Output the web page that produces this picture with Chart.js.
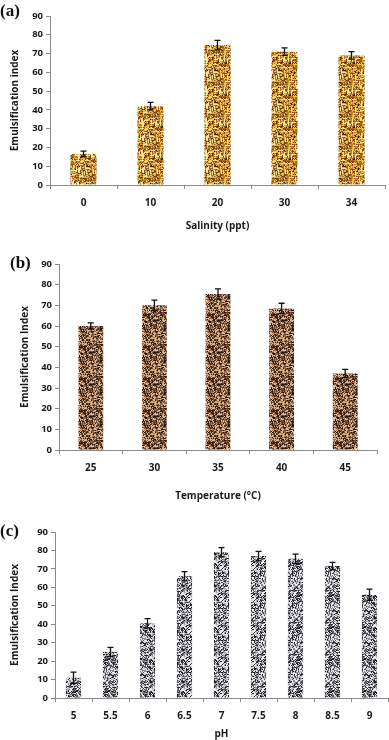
<!DOCTYPE html>
<html>
<head>
<meta charset="utf-8">
<script src="https://cdn.jsdelivr.net/npm/chart.js@4.4.1/dist/chart.umd.min.js"></script>
<style>
  body { margin: 0; background: #fff; width: 389px; height: 740px; position: relative; overflow: hidden; }
  .box { position: absolute; left: 0; width: 389px; }
  .tag { position: absolute; font: bold 17px "Liberation Serif", serif; line-height: 17px; color: #111; }
</style>
</head>
<body>
<div class="box" style="top:0;height:232px"><canvas id="chartA"></canvas></div>
<div class="box" style="top:250px;height:252px"><canvas id="chartB"></canvas></div>
<div class="box" style="top:515px;height:225px"><canvas id="chartC"></canvas></div>
<div class="tag" style="left:0;top:2px">(a)</div>
<div class="tag" style="left:10px;top:254px">(b)</div>
<div class="tag" style="left:0;top:522px">(c)</div>
<script>
// (a) salinity
const salinity = ['0', '10', '20', '30', '34'];
const salinityEI = [16.5, 42, 74.5, 71, 69];
const salinityErr = [1.5, 2, 2.5, 2, 2];

// (b) temperature
const temperature = ['25', '30', '35', '40', '45'];
const temperatureEI = [60, 70, 75.5, 68.5, 37];
const temperatureErr = [1.5, 2.5, 2.5, 2.5, 2];

// (c) pH
const phLevels = ['5', '5.5', '6', '6.5', '7', '7.5', '8', '8.5', '9'];
const phEI = [11, 25, 40.5, 66, 79, 77, 75.5, 71.5, 56];
const phErr = [3, 2.5, 2.5, 2.5, 2.5, 2.5, 2.5, 2, 3];

const yTicks = [0, 10, 20, 30, 40, 50, 60, 70, 80, 90];

const FONT = '"Open Sans", "DejaVu Sans", sans-serif';
const AXIS = '#8a8a8a';

// seeded noise for the bar textures
function makeRand(seed) {
  let s = seed;
  return () => { s = (s * 1103515245 + 12345) % 2147483648; return s / 2147483648; };
}

function texture(base, specks, seed, size, weave) {
  const c = document.createElement('canvas');
  c.width = size; c.height = size;
  const g = c.getContext('2d');
  const rnd = makeRand(seed);
  g.fillStyle = base;
  g.fillRect(0, 0, size, size);
  for (let y = 0; y < size; y++) {
    for (let x = 0; x < size; x++) {
      const r = rnd();
      let acc = 0;
      for (const [col, w] of specks) {
        acc += w;
        if (r < acc) {
          g.fillStyle = col;
          const big = rnd() < 0.3 ? 2 : 1;
          g.fillRect(x, y, big, big);
          break;
        }
      }
    }
  }
  if (weave) {
    g.fillStyle = weave;
    for (let i = 0; i < size * 1.6; i++) {
      const x = Math.floor(rnd() * size), y = Math.floor(rnd() * size);
      if (rnd() < 0.5) g.fillRect(x, y, 4, 1); else g.fillRect(x, y, 1, 4);
    }
  }
  return g.createPattern(c, 'repeat');
}

const errorBars = {
  id: 'errorBars',
  afterDatasetsDraw(chart, args, opts) {
    const { ctx } = chart;
    const y = chart.scales.y;
    const meta = chart.getDatasetMeta(0);
    const vals = chart.data.datasets[0].data;
    ctx.save();
    ctx.strokeStyle = '#111';
    ctx.lineWidth = 1.3;
    meta.data.forEach((bar, i) => {
      const top = y.getPixelForValue(vals[i] + opts.err[i]);
      const bot = y.getPixelForValue(vals[i] - opts.err[i]);
      ctx.beginPath();
      ctx.moveTo(bar.x, top); ctx.lineTo(bar.x, bot);
      ctx.moveTo(bar.x - 3, top); ctx.lineTo(bar.x + 3, top);
      ctx.moveTo(bar.x - 3, bot); ctx.lineTo(bar.x + 3, bot);
      ctx.stroke();
    });
    ctx.restore();
  }
};

function build(id, labels, values, err, fill, o) {
  return new Chart(document.getElementById(id), {
    type: 'bar',
    data: {
      labels: labels,
      datasets: [{
        data: values,
        backgroundColor: fill,
        barPercentage: o.bar,
        categoryPercentage: 1
      }]
    },
    options: {
      responsive: true,
      maintainAspectRatio: false,
      animation: false,
      layout: { padding: { top: o.top, right: o.right, left: 0, bottom: 0 } },
      plugins: {
        legend: { display: false },
        tooltip: { enabled: false },
        errorBars: { err: err }
      },
      scales: {
        x: {
          border: { color: AXIS, width: 1 },
          grid: { display: true, offset: true, drawOnChartArea: false, drawTicks: true, tickLength: 4, color: AXIS },
          ticks: { color: '#1a1a1a', font: { family: FONT, size: 10, weight: 'bold' }, padding: o.xPad },
          title: { display: true, text: o.xTitle, color: '#1a1a1a', font: { family: FONT, size: 10, weight: 'bold' }, padding: { top: o.xTitlePad, bottom: 0 } },
          afterFit(s) { s.height = o.xh; }
        },
        y: {
          min: 0, max: 90,
          border: { color: AXIS, width: 1 },
          grid: { display: true, drawOnChartArea: false, drawTicks: true, tickLength: 4, color: AXIS },
          afterBuildTicks(s) { s.ticks = yTicks.map(v => ({ value: v })); },
          ticks: { color: '#1a1a1a', font: { family: FONT, size: 9.5, weight: 'bold' }, padding: 3 },
          title: { display: true, text: o.yTitle, color: '#1a1a1a', font: { family: FONT, size: 10, weight: 'bold' }, padding: { top: o.yTitlePad, bottom: 0 } },
          afterFit(s) { s.width = o.yw; }
        }
      }
    },
    plugins: [errorBars]
  });
}

const fillA = texture('#c08524', [['#e9bd55', 0.28], ['#7a4512', 0.16], ['#a86a1c', 0.18], ['#3a1e06', 0.05]], 7, 32, '#f7e3a0');
const fillB = texture('#6e4630', [['#d4b894', 0.22], ['#321c10', 0.22], ['#9a6a4c', 0.22]], 13, 32, null);
const fillC = texture('#8e8e94', [['#e8e8ec', 0.24], ['#202024', 0.16], ['#55555b', 0.2], ['#bcbcc2', 0.16]], 29, 32, null);

build('chartA', salinity, salinityEI, salinityErr, fillA,
  { bar: 0.39, top: 16, right: 4, xh: 47, yw: 50, xPad: 8, xTitlePad: 8, xTitle: 'Salinity (ppt)', yTitle: 'Emulsification index', yTitlePad: 9 });
build('chartB', temperature, temperatureEI, temperatureErr, fillB,
  { bar: 0.39, top: 14, right: 12, xh: 52, yw: 59, xPad: 8, xTitlePad: 10, xTitle: 'Temperature (\u00B0C)', yTitle: 'Emulsification Index', yTitlePad: 19 });
build('chartC', phLevels, phEI, phErr, fillC,
  { bar: 0.41, top: 17, right: 1, xh: 42, yw: 55, xPad: 8, xTitlePad: 6, xTitle: 'pH', yTitle: 'Emulsification Index', yTitlePad: 9 });
</script>
</body>
</html>
